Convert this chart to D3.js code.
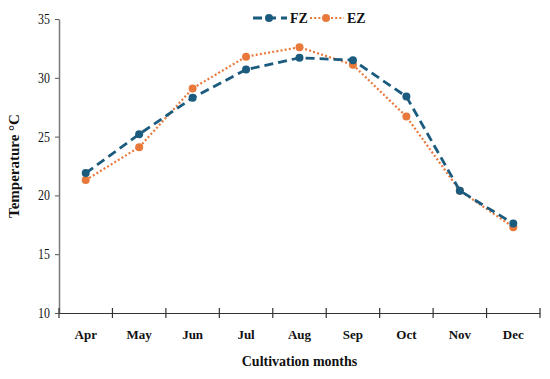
<!DOCTYPE html>
<html>
<head>
<meta charset="utf-8">
<script src="https://cdn.jsdelivr.net/npm/d3@7"></script>
<style>
  body { margin: 0; background: #fff; }
  text { font-family: "Liberation Serif", serif; fill: #111; }
</style>
</head>
<body>
<figure id="chart" style="margin:0"></figure>
<script>
// data
const months = ['Apr', 'May', 'Jun', 'Jul', 'Aug', 'Sep', 'Oct', 'Nov', 'Dec'];
const fzValues = [21.9, 25.2, 28.3, 30.7, 31.7, 31.5, 28.4, 20.4, 17.6];
const ezValues = [21.3, 24.1, 29.1, 31.8, 32.6, 31.1, 26.7, 20.4, 17.3];
const yTicks = [10, 15, 20, 25, 30, 35];

const width = 550, height = 379;
const margin = { top: 19, right: 10, bottom: 66, left: 59 };
const innerW = 540 - margin.left;
const innerH = 313 - margin.top;

const svg = d3.select('#chart').append('svg')
  .attr('width', width).attr('height', height);
const g = svg.append('g')
  .attr('transform', 'translate(' + margin.left + ',' + margin.top + ')');

const x = d3.scaleBand().domain(months).range([0, innerW]);
const y = d3.scaleLinear().domain([10, 35]).range([innerH, 0]);

// y axis
const yAxis = g.append('g')
  .call(d3.axisLeft(y).tickValues(yTicks).tickSize(4).tickPadding(3).tickSizeOuter(0));
yAxis.select('.domain').attr('stroke', '#777').attr('stroke-width', 1.5);
yAxis.selectAll('line').attr('stroke', '#555');
yAxis.selectAll('text').style('font-size', '14px')
  .attr('transform', 'scale(0.85,1)').attr('x', -9 / 0.85);

// x axis: labels in band centres, crossing ticks on band edges
const xAxis = g.append('g')
  .attr('transform', 'translate(0,' + innerH + ')')
  .call(d3.axisBottom(x).tickSize(0).tickPadding(17));
xAxis.select('.domain').attr('stroke', '#333').attr('stroke-width', 1.2);
xAxis.selectAll('text').style('font-size', '13px').style('font-weight', 'bold');
const edges = months.map((m) => x(m)).concat([x(months[months.length - 1]) + x.bandwidth()]);
xAxis.selectAll('.edge').data(edges).enter().append('line')
  .attr('class', 'edge')
  .attr('x1', (d) => d).attr('x2', (d) => d)
  .attr('y1', -5).attr('y2', 5)
  .attr('stroke', '#333').attr('stroke-width', 1.2);

// axis titles
svg.append('text')
  .attr('transform', 'translate(19,' + (margin.top + innerH / 2) + ') rotate(-90)')
  .attr('text-anchor', 'middle')
  .style('font-size', '15px').style('font-weight', 'bold')
  .text('Temperature °C');
svg.append('text')
  .attr('x', margin.left + innerW / 2).attr('y', 366)
  .attr('text-anchor', 'middle')
  .style('font-size', '14px').style('font-weight', 'bold')
  .text('Cultivation months');

// series
const series = [
  { name: 'FZ', values: fzValues, color: '#1b5b7e', dash: '9,5', width: 2.8 },
  { name: 'EZ', values: ezValues, color: '#e9793b', dash: '2,2.2', width: 2.2 },
];
const cx = (i) => x(months[i]) + x.bandwidth() / 2;
const line = d3.line().x((d, i) => cx(i)).y((d) => y(d));

// draw EZ first so FZ sits on top like in the reference
series.slice().reverse().forEach((s) => {
  g.append('path')
    .datum(s.values)
    .attr('d', line)
    .attr('fill', 'none')
    .attr('stroke', s.color)
    .attr('stroke-width', s.width)
    .attr('stroke-dasharray', s.dash);
  g.selectAll('.dot-' + s.name).data(s.values).enter().append('circle')
    .attr('class', 'dot-' + s.name)
    .attr('cx', (d, i) => cx(i))
    .attr('cy', (d) => y(d))
    .attr('r', 4)
    .attr('fill', s.color);
});

// legend
const legend = svg.append('g').attr('transform', 'translate(253,18)');
series.forEach((s, i) => {
  const lg = legend.append('g').attr('transform', 'translate(' + i * 57 + ',0)');
  lg.append('line')
    .attr('x1', 0).attr('x2', 34).attr('y1', 0).attr('y2', 0)
    .attr('stroke', s.color).attr('stroke-width', s.width)
    .attr('stroke-dasharray', s.dash);
  lg.append('circle').attr('cx', 16).attr('cy', 0).attr('r', 4).attr('fill', s.color);
  lg.append('text')
    .attr('x', 37).attr('y', 5)
    .style('font-size', '14px').style('font-weight', 'bold')
    .text(s.name);
});
</script>
</body>
</html>
